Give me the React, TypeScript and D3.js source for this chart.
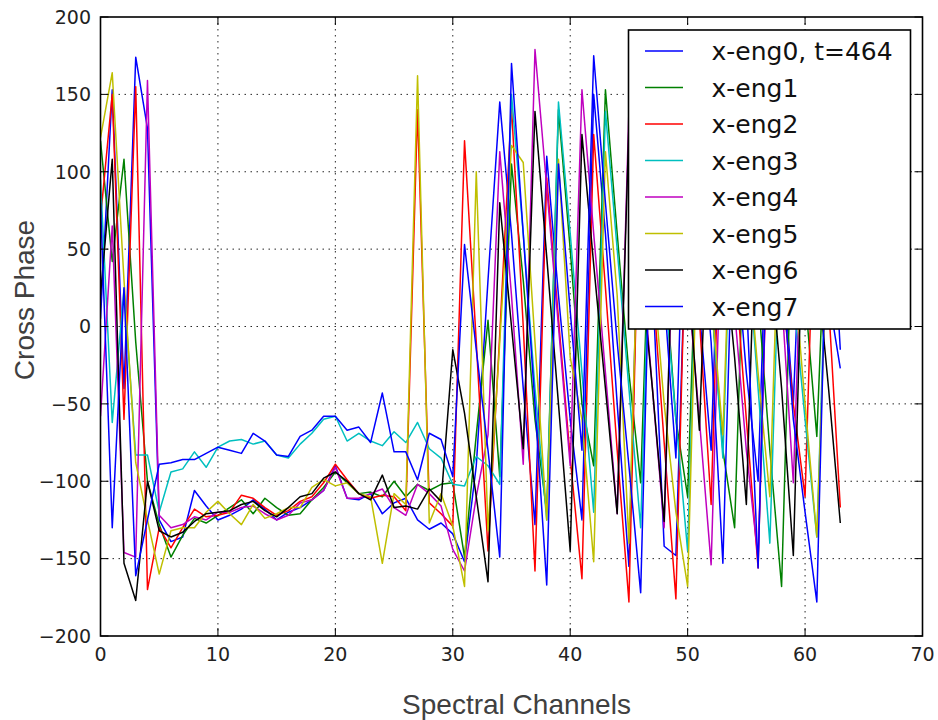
import React from "react";
import * as d3 from "d3";

const channels = d3.range(64);
const seriesNames = ["x-eng0, t=464", "x-eng1", "x-eng2", "x-eng3", "x-eng4", "x-eng5", "x-eng6", "x-eng7"];
const seriesColors = ["#0000ff", "#008000", "#ff0000", "#00bfbf", "#bf00bf", "#bfbf00", "#000000", "#0000ff"];
const xTicks = [0, 10, 20, 30, 40, 50, 60, 70];
const yTicks = [-200, -150, -100, -50, 0, 50, 100, 150, 200];

const xEng0 = [5, 153, -40, 174, 128, -125, -139, -136, -106, -116, -125, -122, -118, -112, -118, -125, -120, -117, -112, -106, -90, -111, -112, -108, -121, -114, -111, -125, -131, -127, -134, -152, -90, 30, 145, 60, -40, -128, 110, 20, -60, -125, 150, 60, -50, -155, 130, 30, -142, -148, 100, 10, -80, 150, 60, -30, -100, 140, 50, -50, 140, 70, 20, -27];
const xEng1 = [120, 42, 108, -10, -100, -128, -149, -135, -124, -127, -122, -117, -112, -121, -111, -117, -122, -121, -112, -104, -94, -101, -108, -107, -110, -100, -110, -102, -106, -102, -101, -149, -70, 4, -97, 105, 30, -60, -120, 140, 50, -50, -90, 153, 60, -30, -101, 130, 40, -60, -110, 120, 20, -80, -130, 110, 20, -80, -168, 100, 20, -71, 120, 30];
const xEng2 = [70, 150, -60, 155, -170, -130, -143, -130, -118, -123, -122, -120, -109, -111, -117, -122, -119, -113, -110, -101, -89, -99, -108, -111, -109, -110, -119, 140, -114, -121, -129, 120, -10, -145, -5, 142, 0, -158, 96, 5, -85, -163, 124, 25, -80, -178, 130, 30, -75, -176, 110, 5, -115, 140, 40, -60, -156, 120, 30, -50, -110, 140, 15, -117];
const xEng3 = [95, -62, 24, -83, -83, -120, -94, -92, -81, -91, -78, -74, -73, -76, -74, -83, -85, -76, -69, -60, -58, -74, -69, -74, -77, -68, -75, -62, -79, -85, -102, -103, -84, -90, -102, 150, 60, -40, -125, 145, 60, -30, -120, 139, 50, -40, -130, 120, 30, -60, -145, 110, 20, -85, 150, 60, -40, -140, 100, 20, -60, -136, 100, 60];
const xEng4 = [-58, 65, -146, -149, 159, -122, -130, -128, -123, -125, -120, -120, -117, -116, -121, -125, -122, -114, -112, -106, -91, -111, -111, -108, -105, -117, -122, -102, -108, -116, -144, -158, -110, -70, 113, 20, -89, 179, 90, 0, -90, 153, 60, -30, -121, 140, 50, -40, -130, 120, 30, -60, -154, 100, 10, -80, -150, 110, 20, -101, 130, 40, 160, 80];
const xEng5 = [122, 164, 30, -88, -125, -160, -132, -130, -130, -120, -113, -121, -128, -115, -124, -121, -117, -117, -104, -99, -103, -101, -108, -110, -153, -108, -115, 162, -127, -108, -129, -168, 100, -132, -10, 117, 106, -10, -125, 108, -20, -60, -152, 113, 20, -140, 120, 40, -50, -120, -168, 110, 20, -70, 150, 60, -30, -110, 130, 40, -50, -136, 80, 100];
const xEng6 = [20, 108, -153, -177, -100, -132, -136, -133, -126, -121, -120, -119, -115, -113, -119, -123, -117, -110, -108, -98, -94, -100, -108, -112, -96, -117, -116, -118, -105, -113, -15, -56, -110, -165, 80, 0, -79, 139, 45, -50, -145, 124, 40, -40, -121, 130, 40, -40, -126, 130, 40, -67, 140, 60, -20, -115, 130, 50, -40, -148, 120, 40, -40, -127];
const xEng7 = [80, -130, 25, -161, -125, -89, -88, -86, -86, -82, -78, -80, -82, -69, -74, -83, -84, -71, -67, -58, -58, -67, -65, -75, -43, -81, -81, -99, -69, -73, -97, 53, -15, -80, -149, 170, 60, -50, -167, 105, 10, -80, 175, 80, -10, -90, -172, 120, 20, -85, 170, 80, -10, -153, 110, 20, -156, 130, 40, -60, -120, -178, 120, -15];

const seriesValues = [xEng0, xEng1, xEng2, xEng3, xEng4, xEng5, xEng6, xEng7];

const W = 938;
const H = 720;
const left = 100.5;
const right = 922.5;
const top = 17;
const bottom = 636;

export default function App() {
  const x = d3.scaleLinear().domain([0, 70]).range([left, right]);
  const y = d3.scaleLinear().domain([-200, 200]).range([bottom, top]);
  const line = d3
    .line<number>()
    .x((_, i) => x(channels[i]))
    .y((d) => y(d));

  const tickFont = "'DejaVu Sans', Verdana, sans-serif";
  const labelFont = "'Liberation Sans', Arial, Helvetica, sans-serif";

  const legendX = 628.5;
  const legendY = 30;
  const legendW = 282;
  const legendH = 299;
  const rowY0 = 51;
  const rowStep = 36.5;

  return (
    <svg
      width={W}
      height={H}
      viewBox={`0 0 ${W} ${H}`}
      style={{ position: "absolute", left: 0, top: 0, background: "#fff" }}
    >
      <defs>
        <clipPath id="plotclip">
          <rect x={left} y={top} width={right - left} height={bottom - top} />
        </clipPath>
      </defs>
      <rect x={0} y={0} width={W} height={H} fill="#fff" />

      {/* grid */}
      <g stroke="#000" strokeWidth={1} strokeDasharray="1.5,4.5" opacity={0.85}>
        {xTicks.slice(1, -1).map((t) => (
          <line key={"gx" + t} x1={x(t)} x2={x(t)} y1={top} y2={bottom} />
        ))}
        {yTicks.slice(1, -1).map((t) => (
          <line key={"gy" + t} x1={left} x2={right} y1={y(t)} y2={y(t)} />
        ))}
      </g>

      {/* series */}
      <g clipPath="url(#plotclip)" fill="none" strokeWidth={1.5} strokeLinejoin="round">
        {seriesValues.map((vals, k) => (
          <path key={"s" + k} d={line(vals) || ""} stroke={seriesColors[k]} />
        ))}
      </g>

      {/* ticks */}
      <g stroke="#000" strokeWidth={1}>
        {xTicks.map((t) => (
          <g key={"tx" + t}>
            <line x1={x(t)} x2={x(t)} y1={bottom} y2={bottom - 8} />
            <line x1={x(t)} x2={x(t)} y1={top} y2={top + 8} />
          </g>
        ))}
        {yTicks.map((t) => (
          <g key={"ty" + t}>
            <line x1={left} x2={left + 8} y1={y(t)} y2={y(t)} />
            <line x1={right} x2={right - 8} y1={y(t)} y2={y(t)} />
          </g>
        ))}
      </g>

      {/* frame */}
      <rect
        x={left}
        y={top}
        width={right - left}
        height={bottom - top}
        fill="none"
        stroke="#000"
        strokeWidth={1.6}
      />

      {/* tick labels */}
      <g fontFamily={tickFont} fontSize={19} fill="#222">
        {xTicks.map((t) => (
          <text key={"lx" + t} x={x(t)} y={661} textAnchor="middle">
            {t}
          </text>
        ))}
        {yTicks.map((t) => (
          <text key={"ly" + t} x={91} y={y(t)} dy="0.36em" textAnchor="end">
            {t < 0 ? "\u2212" + Math.abs(t) : t}
          </text>
        ))}
      </g>

      {/* axis labels */}
      <text
        x={516.5}
        y={714}
        textAnchor="middle"
        fontFamily={labelFont}
        fontSize={28}
        fill="#404040"
      >
        Spectral Channels
      </text>
      <text
        transform={`translate(34,300) rotate(-90)`}
        textAnchor="middle"
        fontFamily={labelFont}
        fontSize={28}
        fill="#404040"
      >
        Cross Phase
      </text>

      {/* legend */}
      <g>
        <rect
          x={legendX}
          y={legendY}
          width={legendW}
          height={legendH}
          fill="#fff"
          stroke="#000"
          strokeWidth={1.6}
        />
        {seriesNames.map((name, k) => (
          <g key={"lg" + k}>
            <line
              x1={645}
              x2={683}
              y1={rowY0 + k * rowStep}
              y2={rowY0 + k * rowStep}
              stroke={seriesColors[k]}
              strokeWidth={1.5}
            />
            <text
              x={711.5}
              y={rowY0 + k * rowStep}
              dy="0.36em"
              fontFamily={tickFont}
              fontSize={25}
              fill="#111"
            >
              {name}
            </text>
          </g>
        ))}
      </g>
    </svg>
  );
}
